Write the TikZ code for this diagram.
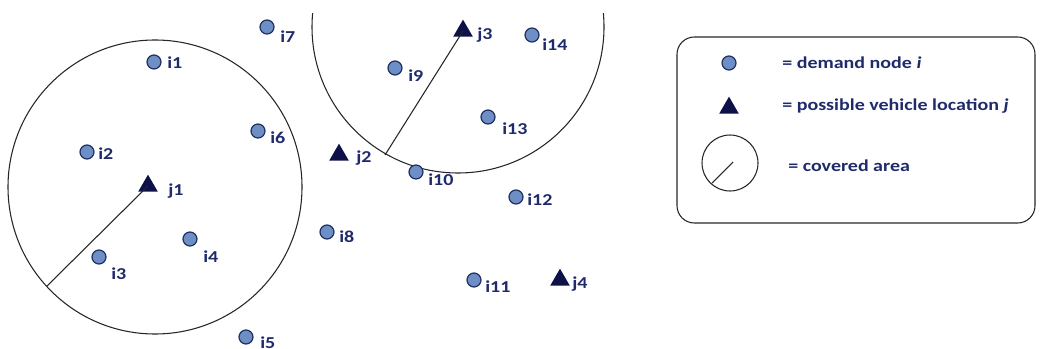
\documentclass[tikz,border=0pt]{standalone}
\usepackage{fontspec}
\setmainfont{Carlito}
\newfontfamily\tagfont[FakeStretch=1.2]{Carlito}
\usetikzlibrary{shapes.geometric}
\definecolor{CovNavy}{HTML}{1F2A6B}
\definecolor{CovSite}{HTML}{0E1048}
\definecolor{CovFill}{HTML}{6D8FC6}
\definecolor{CovEdge}{HTML}{1F2F5F}

\begin{document}
\begin{tikzpicture}[x=0.75pt,y=-0.75pt,
  demand/.style={circle,fill=CovFill,draw=CovEdge,line width=0.9pt,minimum size=10.5pt,inner sep=0pt},
  site/.style={regular polygon,regular polygon sides=3,fill=CovSite,minimum size=17pt,inner sep=0pt},
  tag/.style={anchor=west,inner sep=0pt,text=CovNavy,font=\tagfont\fontsize{12.5}{14}\selectfont\bfseries},
  area/.style={draw=black!85,line width=0.8pt}]
\path[use as bounding box] (0,0) rectangle (1041,349);
\coordinate (c1) at (155,187);
\coordinate (r1) at (47,286);
\coordinate (c3) at (458,27);
\coordinate (r3) at (385,155);
\draw[area] (c1) circle [radius=147];
\begin{scope}
\clip (0,14) rectangle (1041,349);
\draw[area] (c3) circle [radius=146];
\end{scope}
\node[demand] (i1) at (154,62) {};
\node[demand] (i2) at (87,152) {};
\node[demand] (i3) at (99,257) {};
\node[demand] (i4) at (190,239) {};
\node[demand] (i5) at (246,337) {};
\node[demand] (i6) at (258,131) {};
\node[demand] (i7) at (267,27) {};
\node[demand] (i8) at (327,232) {};
\node[demand] (i9) at (395,68) {};
\node[demand] (i10) at (416,172) {};
\node[demand] (i11) at (474,280) {};
\node[demand] (i12) at (516,197) {};
\node[demand] (i13) at (488,117) {};
\node[demand] (i14) at (532,35) {};
\node[site] (j1) at (148,186) {};
\node[site] (j2) at (339,155) {};
\node[site] (j3) at (463,31) {};
\node[site] (j4) at (560,280) {};
\draw[area] (j1.center) -- (r1);
\draw[area] (j3.center) -- (r3);
\node[tag] (li1) at (167,63) {i1};
\node[tag] (li2) at (98,154) {i2};
\node[tag] (li3) at (111,274) {i3};
\node[tag] (li4) at (203,257) {i4};
\node[tag] (li5) at (260,343) {i5};
\node[tag] (li6) at (270,138) {i6};
\node[tag] (li7) at (280,37) {i7};
\node[tag] (li8) at (339,237) {i8};
\node[tag] (li9) at (408,76) {i9};
\node[tag] (li10) at (428,180) {i10};
\node[tag] (li11) at (485,287) {i11};
\node[tag] (li12) at (527,200) {i12};
\node[tag] (li13) at (502,129) {i13};
\node[tag] (li14) at (542,45) {i14};
\node[tag] (lj1) at (168,191) {j1};
\node[tag] (lj2) at (356,158) {j2};
\node[tag] (lj3) at (477,35) {j3};
\node[tag] (lj4) at (572,284) {j4};
\draw[area,rounded corners=13pt] (677,37) rectangle (1035,223);
\node[demand] (kd) at (729,63) {};
\node[site] (ks) at (729,108) {};
\coordinate (kc) at (730,163);
\coordinate (kr) at (712,183);
\draw[area] (kc) circle [radius=28];
\draw[area] (733,162) -- (kr);
\node[tag] (ld) at (782,63) {= demand node \textit{i}};
\node[tag] (ls) at (782,106) {= possible vehicle location \textit{j}};
\node[tag] (lc) at (788,166) {= covered area};
\end{tikzpicture}
\end{document}
